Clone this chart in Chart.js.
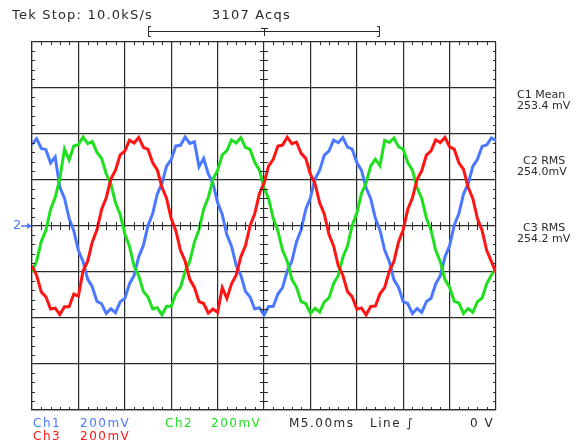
<!DOCTYPE html>
<html>
<head>
<meta charset="utf-8">
<script src="https://cdn.jsdelivr.net/npm/chart.js@4.4.1/dist/chart.umd.min.js"></script>
<style>
  body { margin: 0; background: #fff; }
  #wrap { width: 580px; height: 444px; }
</style>
</head>
<body>
<div id="wrap"><canvas id="scope" width="580" height="444"></canvas></div>
<script>
// sample clock: 0.5 ms per point, 10 divisions of 5 ms
const timeMs = Array.from({ length: 101 }, (_, i) => i * 0.5);

// mV (200 mV/div)
const ch1Blue = [355,379,337,332,274,300,168,121,33,-20,-107,-154,-231,-265,-328,-338,-380,-360,-377,-330,
  -315,-252,-215,-134,-85,2,53,139,185,260,289,348,351,387,359,366,258,293,226,186,
  102,50,-38,-88,-171,-213,-284,-309,-361,-355,-387,-350,-349,-296,-268,-196,-153,-69,-17,72,
  123,204,243,308,326,373,362,384,343,334,276,243,166,119,33,-18,-105,-154,-233,-267,
  -329,-338,-381,-359,-375,-329,-314,-252,-216,-135,-85,3,54,139,184,259,290,346,352,383,372];

const ch2Green = [-200,-152,-67,-19,72,125,206,335,287,348,353,387,358,367,320,294,226,183,101,50,
  -34,-88,-174,-217,-284,-309,-361,-355,-386,-349,-349,-294,-267,-197,-154,-70,-16,74,124,204,
  242,309,328,374,361,384,342,333,277,244,167,119,32,-21,-106,-153,-231,-266,-329,-337,
  -380,-358,-374,-330,-313,-250,-215,-136,-87,2,55,141,187,261,291,262,372,363,383,344,
  334,275,242,166,120,34,-18,-106,-155,-233,-266,-328,-335,-381,-359,-375,-329,-313,-251,-213,-184];

const ch3Red = [-173,-215,-287,-308,-361,-357,-385,-351,-351,-296,-305,-196,-153,-69,-17,72,123,204,243,309,
  325,373,361,385,342,333,276,244,169,120,32,-20,-106,-153,-232,-267,-329,-337,-379,-361,
  -376,-268,-315,-251,-214,-134,-86,1,53,140,186,261,290,348,352,386,358,365,316,294,
  225,184,101,51,-36,-87,-172,-215,-286,-307,-362,-356,-386,-350,-348,-295,-268,-197,-154,-69,
  -16,73,123,203,240,308,327,374,363,385,344,334,275,246,168,120,32,-19,-107,-154,-203];

const headerTexts = ["Tek Stop: 10.0kS/s", "3107 Acqs"];
const measureTexts = [["C1 Mean", "253.4 mV"], ["C2 RMS", "254.0mV"], ["C3 RMS", "254.2 mV"]];

const BLUE = "#4a78ff", GREEN = "#1fe01f", RED = "#ff1414", INK = "#2a2a2a";

const scopeDecor = {
  id: "scopeDecor",
  afterDraw(chart) {
    const ctx = chart.ctx;
    const x = chart.scales.x, y = chart.scales.y;
    const a = chart.chartArea;
    const cx = x.getPixelForValue(25), cy = y.getPixelForValue(0);

    // minor ticks
    ctx.save();
    ctx.strokeStyle = INK;
    ctx.lineWidth = 1;
    ctx.beginPath();
    for (let t = 1; t < 50; t++) {
      if (t % 5 === 0) continue;
      const px = Math.round(x.getPixelForValue(t)) + 0.5;
      ctx.moveTo(px, a.top); ctx.lineTo(px, a.top + 3);
      ctx.moveTo(px, a.bottom); ctx.lineTo(px, a.bottom - 3);
      ctx.moveTo(px, cy - 4); ctx.lineTo(px, cy + 4);
    }
    for (let v = -760; v < 800; v += 40) {
      if (v % 200 === 0) continue;
      const py = Math.round(y.getPixelForValue(v)) + 0.5;
      ctx.moveTo(a.left, py); ctx.lineTo(a.left + 3, py);
      ctx.moveTo(a.right, py); ctx.lineTo(a.right - 3, py);
      ctx.moveTo(cx - 4, py); ctx.lineTo(cx + 4, py);
    }
    ctx.stroke();

    // trigger bracket
    ctx.beginPath();
    const bl = x.getPixelForValue(12.5), br = x.getPixelForValue(37.5);
    ctx.moveTo(bl + 3, 26.5); ctx.lineTo(bl + 0.5, 26.5); ctx.lineTo(bl + 0.5, 36.5); ctx.lineTo(bl + 3, 36.5);
    ctx.moveTo(br - 3, 26.5); ctx.lineTo(br - 0.5, 26.5); ctx.lineTo(br - 0.5, 36.5); ctx.lineTo(br - 3, 36.5);
    ctx.moveTo(bl, 31.5); ctx.lineTo(br, 31.5);
    ctx.moveTo(cx - 3, 28.5); ctx.lineTo(cx + 4, 28.5);
    ctx.moveTo(cx + 0.5, 28.5); ctx.lineTo(cx + 0.5, 36);
    ctx.stroke();

    // texts
    ctx.textBaseline = "middle";
    ctx.fillStyle = INK;
    ctx.font = "13px 'DejaVu Sans'";
    ctx.letterSpacing = "1.2px";
    ctx.fillText(headerTexts[0], 12, 16);
    ctx.fillText(headerTexts[1], 212, 16);

    ctx.font = "11px 'DejaVu Sans'";
    ctx.letterSpacing = "0px";
    const my = [[95, 106], [161, 172], [228, 239]];
    measureTexts.forEach((m, i) => {
      ctx.fillText(m[0], i === 0 ? 517 : 523, my[i][0]);
      ctx.fillText(m[1], 517, my[i][1]);
    });

    ctx.font = "12px 'DejaVu Sans'";
    ctx.letterSpacing = "1.5px";
    ctx.fillStyle = BLUE;
    ctx.fillText("Ch1", 33, 424);
    ctx.fillText("200mV", 80, 424);
    ctx.fillStyle = RED;
    ctx.fillText("Ch3", 33, 437);
    ctx.fillText("200mV", 80, 437);
    ctx.fillStyle = GREEN;
    ctx.fillText("Ch2", 165, 424);
    ctx.fillText("200mV", 211, 424);
    ctx.fillStyle = INK;
    ctx.fillText("M5.00ms", 289, 424);
    ctx.fillText("Line \u222B", 370, 424);
    ctx.fillText("0 V", 470, 424);

    // ground marker for channel 2
    ctx.letterSpacing = "0px";
    ctx.fillStyle = BLUE;
    ctx.strokeStyle = BLUE;
    ctx.font = "13px 'DejaVu Sans'";
    ctx.fillText("2", 13, cy);
    ctx.lineWidth = 1.5;
    ctx.beginPath();
    ctx.moveTo(21, cy); ctx.lineTo(a.left - 1, cy);
    ctx.stroke();
    ctx.beginPath();
    ctx.moveTo(a.left, cy); ctx.lineTo(a.left - 5, cy - 3); ctx.lineTo(a.left - 5, cy + 3);
    ctx.closePath(); ctx.fill();
    ctx.restore();
  }
};

const trace = (data, color) => ({
  data: data.map((v, i) => ({ x: timeMs[i], y: v })),
  borderColor: color,
  borderWidth: 3,
  pointRadius: 0,
  tension: 0,
  fill: false
});

new Chart(document.getElementById("scope").getContext("2d"), {
  type: "line",
  data: {
    datasets: [trace(ch3Red, RED), trace(ch2Green, GREEN), trace(ch1Blue, BLUE)]
  },
  options: {
    responsive: false,
    animation: false,
    layout: { padding: { left: 32, top: 42, right: 84, bottom: 34 } },
    plugins: { legend: { display: false }, tooltip: { enabled: false } },
    scales: {
      x: {
        type: "linear", min: 0, max: 50,
        ticks: { display: false, stepSize: 5 },
        grid: { color: INK, lineWidth: 1.2, drawTicks: false },
        border: { color: INK, width: 1.2 }
      },
      y: {
        min: -800, max: 800,
        ticks: { display: false, stepSize: 200 },
        grid: { color: INK, lineWidth: 1.2, drawTicks: false },
        border: { color: INK, width: 1.2 }
      }
    }
  },
  plugins: [scopeDecor]
});
</script>
</body>
</html>
